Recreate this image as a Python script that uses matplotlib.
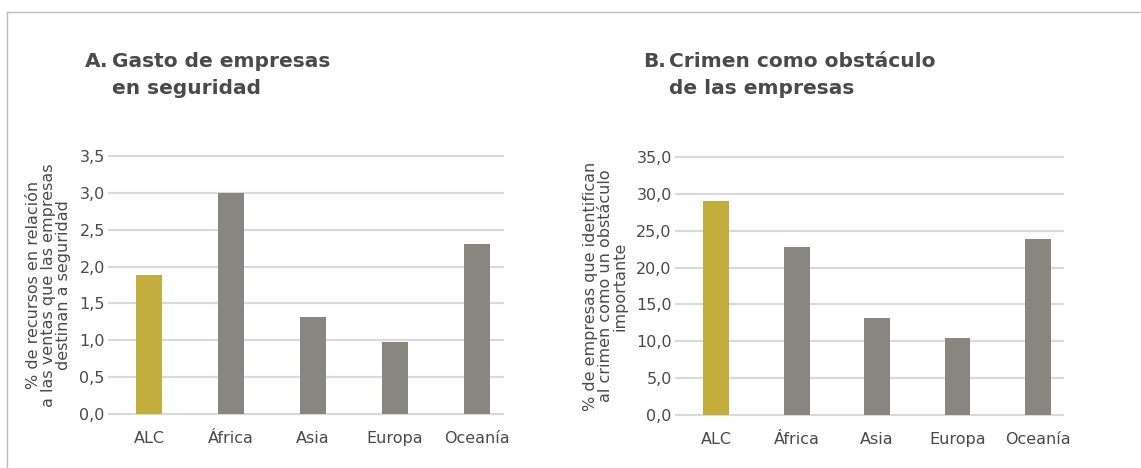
import matplotlib.pyplot as plt
from matplotlib.lines import Line2D

regions = ['ALC', 'África', 'Asia', 'Europa', 'Oceanía']
gasto = [1.88, 3.0, 1.32, 0.98, 2.3]
crimen = [29.0, 22.8, 13.2, 10.4, 23.9]

GOLD = '#c3ae3d'
GREY = '#87867f'
TEXT = '#4a4a4a'
GRID = '#dadada'
colors = [GOLD] + [GREY] * 4

W, H = 1141, 468
fig = plt.figure(figsize=(W / 100, H / 100), dpi=100)
plt.rcParams['font.family'] = ['DejaVu Sans']


def px(x0, y0, x1, y1):
    # axes rect from pixel box
    return [x0 / W, 1 - y1 / H, (x1 - x0) / W, (y1 - y0) / H]


def panel(rect, vals, ymax, step, xlim, ylabel):
    ax = fig.add_axes(rect)
    ax.bar(range(len(regions)), vals, width=0.32, color=colors, zorder=3)
    ax.set_ylim(0, ymax)
    ax.set_xlim(*xlim)
    ticks = [i * step for i in range(int(round(ymax / step)) + 1)]
    ax.set_yticks(ticks)
    ax.set_yticklabels([f'{t:.1f}'.replace('.', ',') for t in ticks])
    ax.set_xticks(range(len(regions)))
    ax.set_xticklabels(regions)
    ax.tick_params(length=0, labelsize=11.5, colors=TEXT)
    ax.tick_params(axis='y', pad=3)
    ax.tick_params(axis='x', pad=12)
    ax.grid(axis='y', color=GRID, linewidth=1.6, zorder=0)
    for g in ax.get_ygridlines():
        g.set_clip_on(False)
    ax.set_axisbelow(True)
    for s in ax.spines.values():
        s.set_visible(False)
    ax.set_ylabel(ylabel, fontsize=11.5, color=TEXT, linespacing=1.0, labelpad=6)
    return ax


axA = panel(px(109, 156, 503, 414), gasto, 3.5, 0.5, (-0.49, 4.32),
            '% de recursos en relación\na las ventas que las empresas\ndestinan a seguridad')
axB = panel(px(676, 157, 1063, 415), crimen, 35, 5, (-0.5, 4.31),
            '% de empresas que identifican\nal crimen como un obstáculo\nimportante')

tkw = dict(fontsize=14.5, fontweight='bold', color=TEXT, va='top', linespacing=1.55)
fig.text(85 / W, 1 - 52 / H, 'A.', **tkw)
fig.text(112 / W, 1 - 52 / H, 'Gasto de empresas\nen seguridad', **tkw)
fig.text(643 / W, 1 - 52 / H, 'B.', **tkw)
fig.text(669 / W, 1 - 52 / H, 'Crimen como obstáculo\nde las empresas', **tkw)

# frame lines
fig.add_artist(Line2D([7 / W, 1], [1 - 12 / H, 1 - 12 / H], color='#bdbdbd', lw=1))
fig.add_artist(Line2D([7 / W, 7 / W], [0, 1 - 12 / H], color='#bdbdbd', lw=1))

fig.savefig('out.png', dpi=100, facecolor='white')
